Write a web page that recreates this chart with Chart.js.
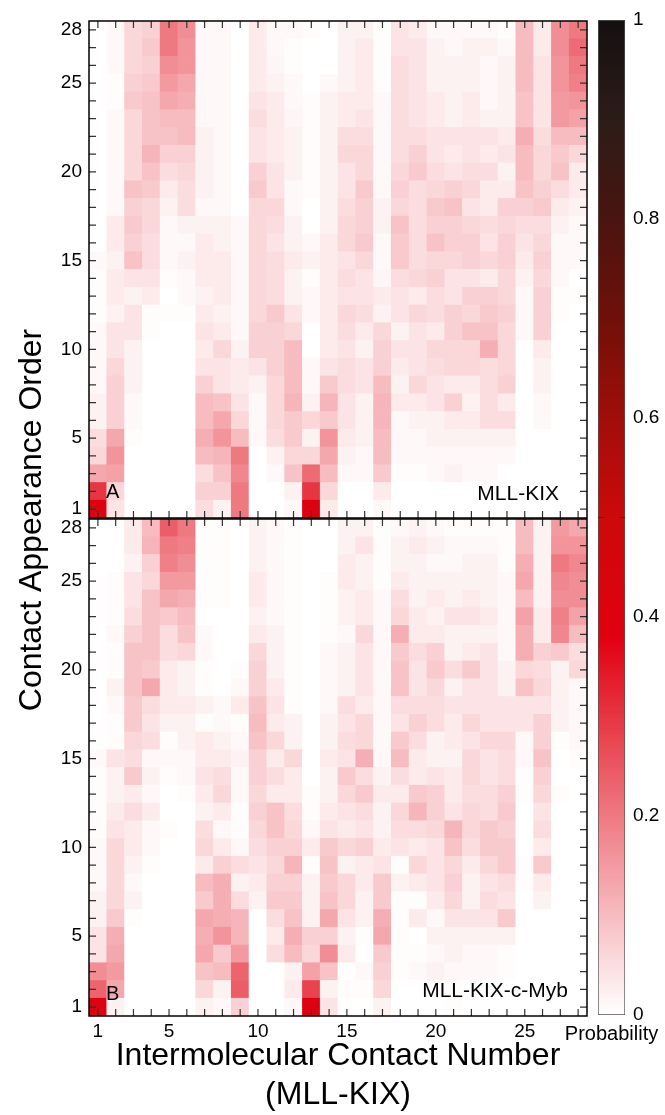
<!DOCTYPE html>
<html><head><meta charset="utf-8">
<script src="https://cdn.jsdelivr.net/npm/chart.js@4.4.1/dist/chart.umd.min.js"></script>
<style>
html,body{margin:0;padding:0;background:#fff;}
#wrap{position:relative;width:665px;height:1115px;overflow:hidden;background:#fff;}
.layer{position:absolute;left:0;top:0;width:665px;height:1115px;}
</style></head><body>
<div id="wrap">
<div class="layer"><canvas id="cA"></canvas></div>
<div class="layer"><canvas id="cB"></canvas></div>
<div class="layer"><canvas id="cC"></canvas></div>
</div>
<script>
const contactNumbers = [1,2,3,4,5,6,7,8,9,10,11,12,13,14,15,16,17,18,19,20,21,22,23,24,25,26,27,28];
const appearanceOrders = [1,2,3,4,5,6,7,8,9,10,11,12,13,14,15,16,17,18,19,20,21,22,23,24,25,26,27,28];
const xTickLabels = [1,5,10,15,20,25];
const yTickLabels = [1,5,10,15,20,25,28];
const colorbarTicks = [0,0.2,0.4,0.6,0.8,1];
const colorbarRange = [0, 1];
const cmapStops  = [0, 0.38, 0.5, 0.6, 0.7, 0.8, 0.9, 1];
const cmapColors = ['#ffffff','#e00010','#cc0a0a','#a00e0a','#701008','#4a1410','#2c1c18','#141010'];

// Panel A: MLL-KIX (rows = contact appearance order 1..28, columns = contact number 1..28)
const kix_r01 = [0.4,0.04,0,0,0,0,0.05,0.02,0.2,0,0,0.01,0.4,0.03,0,0,0.01,0,0,0,0,0,0,0,0,0,0,0];
const kix_r02 = [0.3,0.06,0,0,0,0,0.07,0.07,0.2,0,0,0.02,0.3,0.06,0,0,0.03,0,0,0,0,0,0,0,0,0,0,0];
const kix_r03 = [0.13,0.14,0,0,0,0,0.05,0.09,0.18,0,0.01,0.09,0.22,0.1,0.01,0.01,0.08,0.005,0.005,0.01,0.02,0.01,0.01,0,0,0,0,0];
const kix_r04 = [0.06,0.16,0,0,0,0,0.1,0.11,0.2,0,0.02,0.06,0.06,0.13,0.02,0.01,0.1,0.01,0.01,0.01,0.01,0.01,0.01,0.01,0,0,0,0];
const kix_r05 = [0.05,0.13,0.005,0,0,0,0.12,0.16,0.1,0.01,0.05,0.08,0.02,0.16,0.03,0.02,0.1,0.01,0.01,0.02,0.02,0.02,0.02,0.02,0,0,0,0];
const kix_r06 = [0.02,0.07,0.01,0,0,0,0.1,0.13,0.06,0.01,0.06,0.08,0.06,0.08,0.04,0.02,0.11,0.01,0.02,0.02,0.03,0.03,0.05,0.05,0,0.01,0,0];
const kix_r07 = [0.02,0.07,0.01,0,0,0,0.1,0.09,0.04,0.01,0.06,0.11,0.02,0.11,0.04,0.02,0.11,0.03,0.03,0.04,0.07,0.02,0.05,0.03,0,0.01,0,0];
const kix_r08 = [0.01,0.07,0.02,0,0,0,0.07,0.04,0.03,0.02,0.06,0.1,0.01,0.08,0.05,0.04,0.1,0.02,0.06,0.04,0.03,0.03,0.05,0.07,0,0.02,0,0];
const kix_r09 = [0.01,0.06,0.02,0,0,0,0.04,0.04,0.03,0.04,0.07,0.1,0.01,0.04,0.05,0.04,0.07,0.03,0.04,0.05,0.06,0.06,0.05,0.06,0,0.02,0,0];
const kix_r10 = [0.01,0.04,0.02,0,0,0,0.03,0.06,0.02,0.07,0.07,0.1,0,0.03,0.04,0.02,0.07,0.04,0.04,0.06,0.06,0.06,0.12,0.06,0,0.03,0,0];
const kix_r11 = [0.01,0.04,0.04,0.005,0,0,0.04,0.03,0.01,0.07,0.07,0.06,0,0.03,0.05,0.03,0.06,0.02,0.04,0.03,0.07,0.09,0.09,0.06,0.01,0.07,0,0];
const kix_r12 = [0.005,0.02,0.04,0.005,0.005,0.005,0.03,0.02,0.01,0.06,0.08,0.04,0.01,0.03,0.06,0.05,0.02,0.04,0.06,0.05,0.07,0.06,0.08,0.07,0.01,0.07,0.005,0];
const kix_r13 = [0.005,0.03,0.02,0.03,0,0.01,0.02,0.03,0.01,0.06,0.05,0.02,0.01,0.03,0.04,0.04,0.03,0.04,0.03,0.05,0.04,0.07,0.07,0.06,0.01,0.07,0.005,0.005];
const kix_r14 = [0.005,0.03,0.04,0.04,0.005,0.01,0.03,0.03,0.01,0.06,0.05,0.02,0.005,0.03,0.05,0.04,0.015,0.05,0.06,0.07,0.04,0.04,0.03,0.06,0.02,0.06,0.01,0];
const kix_r15 = [0.01,0.02,0.09,0.05,0.01,0.02,0.03,0.03,0.01,0.06,0.05,0.03,0.02,0.03,0.04,0.06,0.01,0.08,0.05,0.06,0.06,0.07,0.06,0.07,0.03,0.07,0.01,0.01];
const kix_r16 = [0,0.03,0.07,0.05,0.01,0.01,0.03,0.02,0.01,0.06,0.04,0.02,0.01,0.03,0.06,0.08,0.01,0.08,0.05,0.09,0.07,0.07,0.04,0.07,0.04,0.06,0.01,0.01];
const kix_r17 = [0,0.03,0.08,0.06,0.01,0.02,0.02,0.02,0.01,0.06,0.05,0.02,0,0.02,0.06,0.07,0.02,0.09,0.05,0.07,0.07,0.06,0.05,0.06,0.05,0.05,0.02,0.01];
const kix_r18 = [0,0.01,0.07,0.06,0.02,0.05,0.01,0.01,0,0.06,0.06,0.01,0,0.02,0.05,0.07,0.02,0.06,0.05,0.08,0.09,0.04,0.03,0.07,0.07,0.08,0.03,0.02];
const kix_r19 = [0,0.01,0.09,0.08,0.03,0.05,0.02,0.01,0,0.08,0.04,0.01,0.005,0.02,0.04,0.08,0.01,0.07,0.05,0.06,0.07,0.06,0.03,0.03,0.09,0.07,0.05,0.03];
const kix_r20 = [0,0.01,0.06,0.09,0.05,0.06,0.02,0.01,0,0.07,0.04,0.02,0.005,0.02,0.04,0.06,0.01,0.06,0.08,0.05,0.04,0.05,0.05,0.02,0.1,0.06,0.09,0.03];
const kix_r21 = [0,0.01,0.06,0.11,0.07,0.07,0.02,0.01,0,0.04,0.03,0.02,0.005,0.02,0.06,0.06,0.01,0.05,0.07,0.04,0.03,0.04,0.03,0.04,0.1,0.06,0.08,0.06];
const kix_r22 = [0,0.01,0.06,0.09,0.09,0.1,0.02,0.01,0,0.04,0.03,0.02,0.005,0.02,0.05,0.05,0.01,0.05,0.05,0.04,0.04,0.04,0.04,0.03,0.12,0.05,0.1,0.1];
const kix_r23 = [0,0.01,0.06,0.09,0.1,0.1,0.01,0.01,0,0.05,0.03,0.015,0.005,0.02,0.03,0.04,0.01,0.05,0.04,0.03,0.02,0.03,0.02,0.02,0.09,0.04,0.15,0.14];
const kix_r24 = [0,0.005,0.08,0.09,0.13,0.12,0.01,0.01,0,0.04,0.03,0.01,0.005,0.02,0.03,0.03,0.01,0.05,0.04,0.03,0.02,0.03,0.01,0.02,0.09,0.04,0.15,0.16];
const kix_r25 = [0,0.005,0.07,0.08,0.15,0.13,0.01,0.01,0,0.03,0.02,0.01,0,0.01,0.02,0.03,0.005,0.05,0.04,0.02,0.02,0.02,0.01,0.02,0.1,0.04,0.16,0.19];
const kix_r26 = [0,0.01,0.06,0.07,0.17,0.16,0.01,0.01,0,0.03,0.015,0.005,0,0,0.02,0.03,0.005,0.05,0.04,0.02,0.02,0.02,0.01,0.02,0.1,0.04,0.16,0.2];
const kix_r27 = [0,0.01,0.06,0.08,0.2,0.16,0.01,0.01,0,0.03,0.01,0.005,0,0,0.02,0.03,0.005,0.04,0.04,0.02,0.01,0.02,0.02,0.01,0.1,0.03,0.17,0.22];
const kix_r28 = [0,0.01,0.06,0.07,0.2,0.17,0.01,0.01,0,0.03,0.01,0.01,0.005,0,0.02,0.02,0.005,0.04,0.03,0.01,0.01,0.01,0.01,0.005,0.1,0.03,0.17,0.2];

// Panel B: MLL-KIX-c-Myb
const myb_r01 = [0.4,0.02,0,0,0,0,0.02,0.01,0.07,0,0,0.01,0.4,0.04,0,0,0.02,0,0,0,0.005,0,0,0,0,0,0,0];
const myb_r02 = [0.23,0.13,0,0,0,0,0.06,0.02,0.24,0,0,0.03,0.28,0.02,0.005,0.005,0.06,0,0,0,0.005,0,0,0,0,0,0,0];
const myb_r03 = [0.17,0.15,0,0,0,0,0.09,0.1,0.23,0,0,0.02,0.14,0.09,0,0.01,0.07,0.005,0.01,0.02,0.01,0.01,0.01,0.005,0,0,0,0];
const myb_r04 = [0.04,0.13,0,0,0,0,0.13,0.08,0.15,0,0.05,0.1,0.06,0.17,0.03,0,0.08,0.005,0.005,0.01,0.02,0.01,0.01,0.005,0,0,0,0];
const myb_r05 = [0.04,0.12,0,0,0,0,0.12,0.16,0.11,0,0.03,0.12,0.07,0.07,0.02,0.005,0.13,0.005,0,0.02,0.02,0.02,0.02,0.02,0,0,0,0];
const myb_r06 = [0.02,0.08,0.005,0,0,0,0.13,0.12,0.11,0,0.05,0.09,0.02,0.13,0.04,0.02,0.12,0.005,0.03,0.01,0.04,0.04,0.04,0.08,0,0,0,0];
const myb_r07 = [0.02,0.06,0.02,0,0,0,0.08,0.12,0.05,0.02,0.08,0.08,0.02,0.09,0.06,0.02,0.08,0.005,0.005,0.03,0.06,0.02,0.05,0.04,0,0.02,0,0];
const myb_r08 = [0.01,0.06,0.01,0,0,0,0.1,0.12,0.02,0.03,0.07,0.07,0.02,0.08,0.06,0.03,0.08,0.02,0.03,0.04,0.07,0.02,0.04,0.05,0.005,0.03,0,0];
const myb_r09 = [0.01,0.06,0.02,0.005,0,0,0.03,0.07,0.05,0.04,0.06,0.11,0.005,0.09,0.02,0.03,0.04,0.005,0.06,0.04,0.06,0.03,0.06,0.08,0.005,0.08,0,0];
const myb_r10 = [0.01,0.06,0.03,0.01,0,0,0.06,0.03,0.01,0.05,0.07,0.07,0.03,0.08,0.06,0.07,0.03,0.04,0.03,0.04,0.09,0.05,0.08,0.08,0,0.03,0,0];
const myb_r11 = [0.005,0.04,0.03,0.01,0.005,0,0.05,0.01,0.005,0.06,0.09,0.06,0.01,0.04,0.03,0.04,0.02,0.05,0.05,0.06,0.11,0.06,0.08,0.07,0,0.05,0,0];
const myb_r12 = [0.005,0.03,0.05,0.03,0,0,0.02,0.03,0.005,0.07,0.09,0.05,0.005,0.03,0.04,0.05,0.02,0.06,0.11,0.07,0.04,0.06,0.05,0.08,0,0.04,0,0];
const myb_r13 = [0.005,0.02,0.03,0.01,0,0.005,0.03,0.06,0.01,0.06,0.03,0.03,0.005,0.02,0.06,0.08,0.03,0.03,0.08,0.07,0.03,0.05,0.05,0.07,0.005,0.06,0.005,0];
const myb_r14 = [0.005,0.02,0.08,0.02,0.005,0.01,0.04,0.05,0.01,0.07,0.05,0.03,0,0.02,0.08,0.05,0.02,0.05,0.03,0.04,0.03,0.06,0.04,0.05,0.005,0.07,0,0];
const myb_r15 = [0.01,0.04,0.05,0.01,0.01,0.01,0.03,0.03,0.02,0.07,0.03,0.06,0,0.03,0.04,0.12,0.01,0.1,0.03,0.02,0.02,0.06,0.04,0.05,0.01,0.09,0,0.005];
const myb_r16 = [0,0.005,0.06,0.05,0.005,0.02,0.03,0.02,0.01,0.09,0.06,0.02,0,0.02,0.05,0.06,0.01,0.08,0.05,0.02,0.03,0.04,0.06,0.06,0.01,0.07,0.005,0.01];
const myb_r17 = [0,0.005,0.08,0.04,0.02,0.02,0.005,0.01,0.005,0.1,0.03,0.02,0,0.02,0.04,0.06,0.01,0.04,0.07,0.05,0.03,0.06,0.04,0.04,0.04,0.07,0.02,0.01];
const myb_r18 = [0,0.01,0.08,0.05,0.03,0.03,0.02,0.01,0.03,0.09,0.04,0.005,0,0.01,0.05,0.03,0.01,0.05,0.05,0.05,0.04,0.04,0.04,0.04,0.04,0.04,0.02,0.01];
const myb_r19 = [0,0.02,0.09,0.13,0.03,0.02,0.005,0,0.01,0.07,0.03,0.005,0,0.01,0.02,0.04,0.01,0.09,0.04,0.06,0.02,0.04,0.04,0.02,0.09,0.06,0.02,0.01];
const myb_r20 = [0,0.005,0.09,0.08,0.03,0.02,0.005,0,0.005,0.07,0.02,0.005,0,0.01,0.02,0.04,0.01,0.09,0.04,0.08,0.05,0.08,0.04,0.02,0.06,0.05,0.02,0.06];
const myb_r21 = [0,0.005,0.09,0.09,0.05,0.06,0.01,0,0,0.06,0.02,0.005,0,0.01,0.02,0.04,0.01,0.08,0.05,0.07,0.02,0.03,0.04,0.01,0.12,0.07,0.08,0.05];
const myb_r22 = [0,0.01,0.07,0.09,0.05,0.09,0.01,0,0,0.03,0.02,0.005,0,0.005,0.01,0.06,0.01,0.12,0.03,0.03,0.02,0.02,0.02,0.01,0.12,0.03,0.18,0.1];
const myb_r23 = [0,0.005,0.05,0.09,0.08,0.1,0,0,0,0.02,0.01,0.005,0,0.005,0.02,0.03,0.01,0.06,0.03,0.02,0.04,0.04,0.03,0.01,0.14,0.03,0.19,0.14];
const myb_r24 = [0,0.005,0.04,0.09,0.13,0.12,0.005,0.005,0,0.03,0.01,0.005,0,0.005,0.02,0.03,0.01,0.05,0.02,0.03,0.02,0.03,0.02,0.01,0.1,0.02,0.17,0.17];
const myb_r25 = [0,0.005,0.04,0.06,0.15,0.15,0.005,0.005,0,0.03,0.01,0.005,0,0.005,0.03,0.02,0.005,0.03,0.02,0.02,0.02,0.02,0.02,0.01,0.13,0.02,0.18,0.17];
const myb_r26 = [0,0,0.02,0.07,0.19,0.17,0.005,0.005,0,0.02,0.01,0.005,0,0,0.03,0.02,0.005,0.02,0.02,0.01,0.01,0.02,0.02,0.005,0.12,0.02,0.2,0.18];
const myb_r27 = [0,0,0.03,0.11,0.2,0.19,0.005,0.005,0,0.02,0.01,0.005,0,0,0.02,0.04,0.005,0.02,0.03,0.02,0.01,0.01,0.01,0.005,0.1,0.02,0.16,0.16];
const myb_r28 = [0,0,0.03,0.1,0.24,0.2,0.005,0.005,0,0.02,0.01,0.005,0,0,0.02,0.02,0.005,0.01,0.02,0.01,0.005,0.005,0.005,0.005,0.1,0.02,0.15,0.13];

const kixRows = [kix_r01,kix_r02,kix_r03,kix_r04,kix_r05,kix_r06,kix_r07,kix_r08,kix_r09,kix_r10,kix_r11,kix_r12,kix_r13,kix_r14,kix_r15,kix_r16,kix_r17,kix_r18,kix_r19,kix_r20,kix_r21,kix_r22,kix_r23,kix_r24,kix_r25,kix_r26,kix_r27,kix_r28];
const mybRows = [myb_r01,myb_r02,myb_r03,myb_r04,myb_r05,myb_r06,myb_r07,myb_r08,myb_r09,myb_r10,myb_r11,myb_r12,myb_r13,myb_r14,myb_r15,myb_r16,myb_r17,myb_r18,myb_r19,myb_r20,myb_r21,myb_r22,myb_r23,myb_r24,myb_r25,myb_r26,myb_r27,myb_r28];

const FONT = "'Liberation Sans', Arial, Helvetica, sans-serif";

function hexRgb(h){ return [parseInt(h.slice(1,3),16), parseInt(h.slice(3,5),16), parseInt(h.slice(5,7),16)]; }
function probColor(v){
  for (let i = 1; i < cmapStops.length; i++) {
    if (v <= cmapStops[i]) {
      const t = (v - cmapStops[i-1]) / (cmapStops[i] - cmapStops[i-1]);
      const a = hexRgb(cmapColors[i-1]), b = hexRgb(cmapColors[i]);
      return 'rgb(' + a.map((c,k) => Math.round(c + (b[k]-c)*t)).join(',') + ')';
    }
  }
  return cmapColors[cmapColors.length-1];
}

function heatDatasets(rows){
  return rows.map((vals, i) => ({
    label: 'order ' + appearanceOrders[i],
    data: vals.map(() => [appearanceOrders[i] - 0.5, appearanceOrders[i] + 0.5]),
    backgroundColor: vals.map(probColor),
    borderWidth: 0,
    barPercentage: 1,
    categoryPercentage: 1
  }));
}

const framePlugin = {
  id: 'frame',
  afterDatasetsDraw(chart, args, opts){
    const {ctx, chartArea: a, scales: {x, y}} = chart;
    ctx.save();
    ctx.strokeStyle = '#333';
    ctx.lineWidth = 1.2;
    ctx.beginPath();
    contactNumbers.forEach((c, i) => {
      const px = x.getPixelForValue(i);
      ctx.moveTo(px, a.top); ctx.lineTo(px, a.top + 7);
      ctx.moveTo(px, a.bottom); ctx.lineTo(px, a.bottom - 7);
    });
    appearanceOrders.forEach(o => {
      const py = y.getPixelForValue(o);
      ctx.moveTo(a.left, py); ctx.lineTo(a.left + 7, py);
      ctx.moveTo(a.right, py); ctx.lineTo(a.right - 7, py);
    });
    ctx.stroke();
    ctx.strokeStyle = '#000';
    ctx.lineWidth = 1.5;
    ctx.strokeRect(a.left, a.top, a.right - a.left, a.bottom - a.top);
    ctx.fillStyle = '#000';
    ctx.textBaseline = 'alphabetic';
    ctx.font = '20px ' + FONT;
    ctx.textAlign = 'left';
    ctx.fillText(opts.tag, a.left + 17, a.bottom - opts.tagDy);
    ctx.font = '21px ' + FONT;
    ctx.textAlign = 'right';
    ctx.fillText(opts.name, a.right - opts.nameDx, a.bottom - opts.nameDy);
    if (opts.yTitle) {
      ctx.font = '32px ' + FONT;
      ctx.textAlign = 'center';
      ctx.textBaseline = 'middle';
      ctx.translate(32, 520);
      ctx.rotate(-Math.PI / 2);
      ctx.fillText(opts.yTitle, 0, 0);
    }
    ctx.restore();
  }
};

function yAxis(){
  return {
    type: 'linear', min: 0.5, max: 28.5,
    afterBuildTicks: s => { s.ticks = yTickLabels.map(v => ({value: v})); },
    afterFit: s => { s.width = 89; },
    grid: {display: false, drawTicks: false},
    border: {display: false},
    ticks: {font: {family: FONT, size: 19}, color: '#000', padding: 7, autoSkip: false}
  };
}

function heatChart(id, rows, padding, showX, frameOpts){
  const xAxis = {
    type: 'category', offset: true,
    grid: {display: false, drawTicks: false},
    border: {display: false},
    display: showX
  };
  if (showX) {
    xAxis.ticks = {
      autoSkip: false, maxRotation: 0, minRotation: 0, padding: 4,
      font: {family: FONT, size: 19}, color: '#000',
      callback: (v, i) => xTickLabels.includes(contactNumbers[i]) ? String(contactNumbers[i]) : ''
    };
    xAxis.title = {
      display: true, text: ['Intermolecular Contact Number', '(MLL-KIX)'],
      font: {family: FONT, size: 32, lineHeight: 39/32}, color: '#000',
      padding: {top: 0, bottom: 0}
    };
    xAxis.afterFit = s => { s.height = 99; };
  }
  return new Chart(document.getElementById(id), {
    type: 'bar',
    data: {labels: contactNumbers.map(String), datasets: heatDatasets(rows)},
    options: {
      responsive: true, maintainAspectRatio: false, animation: false,
      layout: {padding: padding},
      plugins: {legend: {display: false}, tooltip: {enabled: false}, frame: frameOpts},
      scales: {x: Object.assign({stacked: true}, xAxis), y: yAxis()}
    },
    plugins: [framePlugin]
  });
}

heatChart('cA', kixRows, {left: 0, top: 21, right: 78, bottom: 597}, false,
  {tag: 'A', tagDy: 20, name: 'MLL-KIX', nameDx: 28, nameDy: 18, yTitle: 'Contact Appearance Order'});
heatChart('cB', mybRows, {left: 0, top: 519, right: 78, bottom: 0}, true,
  {tag: 'B', tagDy: 16, name: 'MLL-KIX-c-Myb', nameDx: 19, nameDy: 19});

const cbPlugin = {
  id: 'cbticks',
  afterDatasetsDraw(chart){
    const {ctx, chartArea: a, scales: {y}} = chart;
    const py = y.getPixelForValue(0.5);
    ctx.save();
    ctx.strokeStyle = '#333'; ctx.lineWidth = 1.2;
    ctx.beginPath();
    ctx.moveTo(a.left, py); ctx.lineTo(a.left + 6, py);
    ctx.moveTo(a.right, py); ctx.lineTo(a.right - 6, py);
    ctx.stroke();
    ctx.fillStyle = '#000';
    ctx.font = '20px ' + FONT;
    ctx.textAlign = 'center';
    ctx.textBaseline = 'middle';
    ctx.fillText('Probability', (a.left + a.right) / 2, a.bottom + 19);
    ctx.restore();
  }
};

new Chart(document.getElementById('cC'), {
  type: 'bar',
  data: {
    labels: ['Probability'],
    datasets: [{
      data: [colorbarRange],
      backgroundColor: c => {
        const ch = c.chart;
        if (!ch.chartArea) return '#fff';
        const y0 = ch.scales.y.getPixelForValue(0), y1 = ch.scales.y.getPixelForValue(1);
        const g = ch.ctx.createLinearGradient(0, y0, 0, y1);
        cmapStops.forEach((s, i) => g.addColorStop(s, cmapColors[i]));
        return g;
      },
      borderColor: '#555', borderWidth: 1, borderSkipped: false,
      barPercentage: 1, categoryPercentage: 1
    }]
  },
  options: {
    responsive: true, maintainAspectRatio: false, animation: false,
    layout: {padding: {left: 598, top: 20, right: 0, bottom: 100}},
    plugins: {legend: {display: false}, tooltip: {enabled: false}},
    scales: {
      x: {display: false},
      y: {
        position: 'right', min: 0, max: 1,
        afterBuildTicks: s => { s.ticks = colorbarTicks.map(v => ({value: v})); },
        grid: {display: false, drawTicks: false}, border: {display: false},
        ticks: {padding: 8, font: {family: FONT, size: 19}, color: '#000', callback: v => String(v)},
        afterFit: s => { s.width = 40; }
      }
    }
  },
  plugins: [cbPlugin]
});
</script>
</body></html>
